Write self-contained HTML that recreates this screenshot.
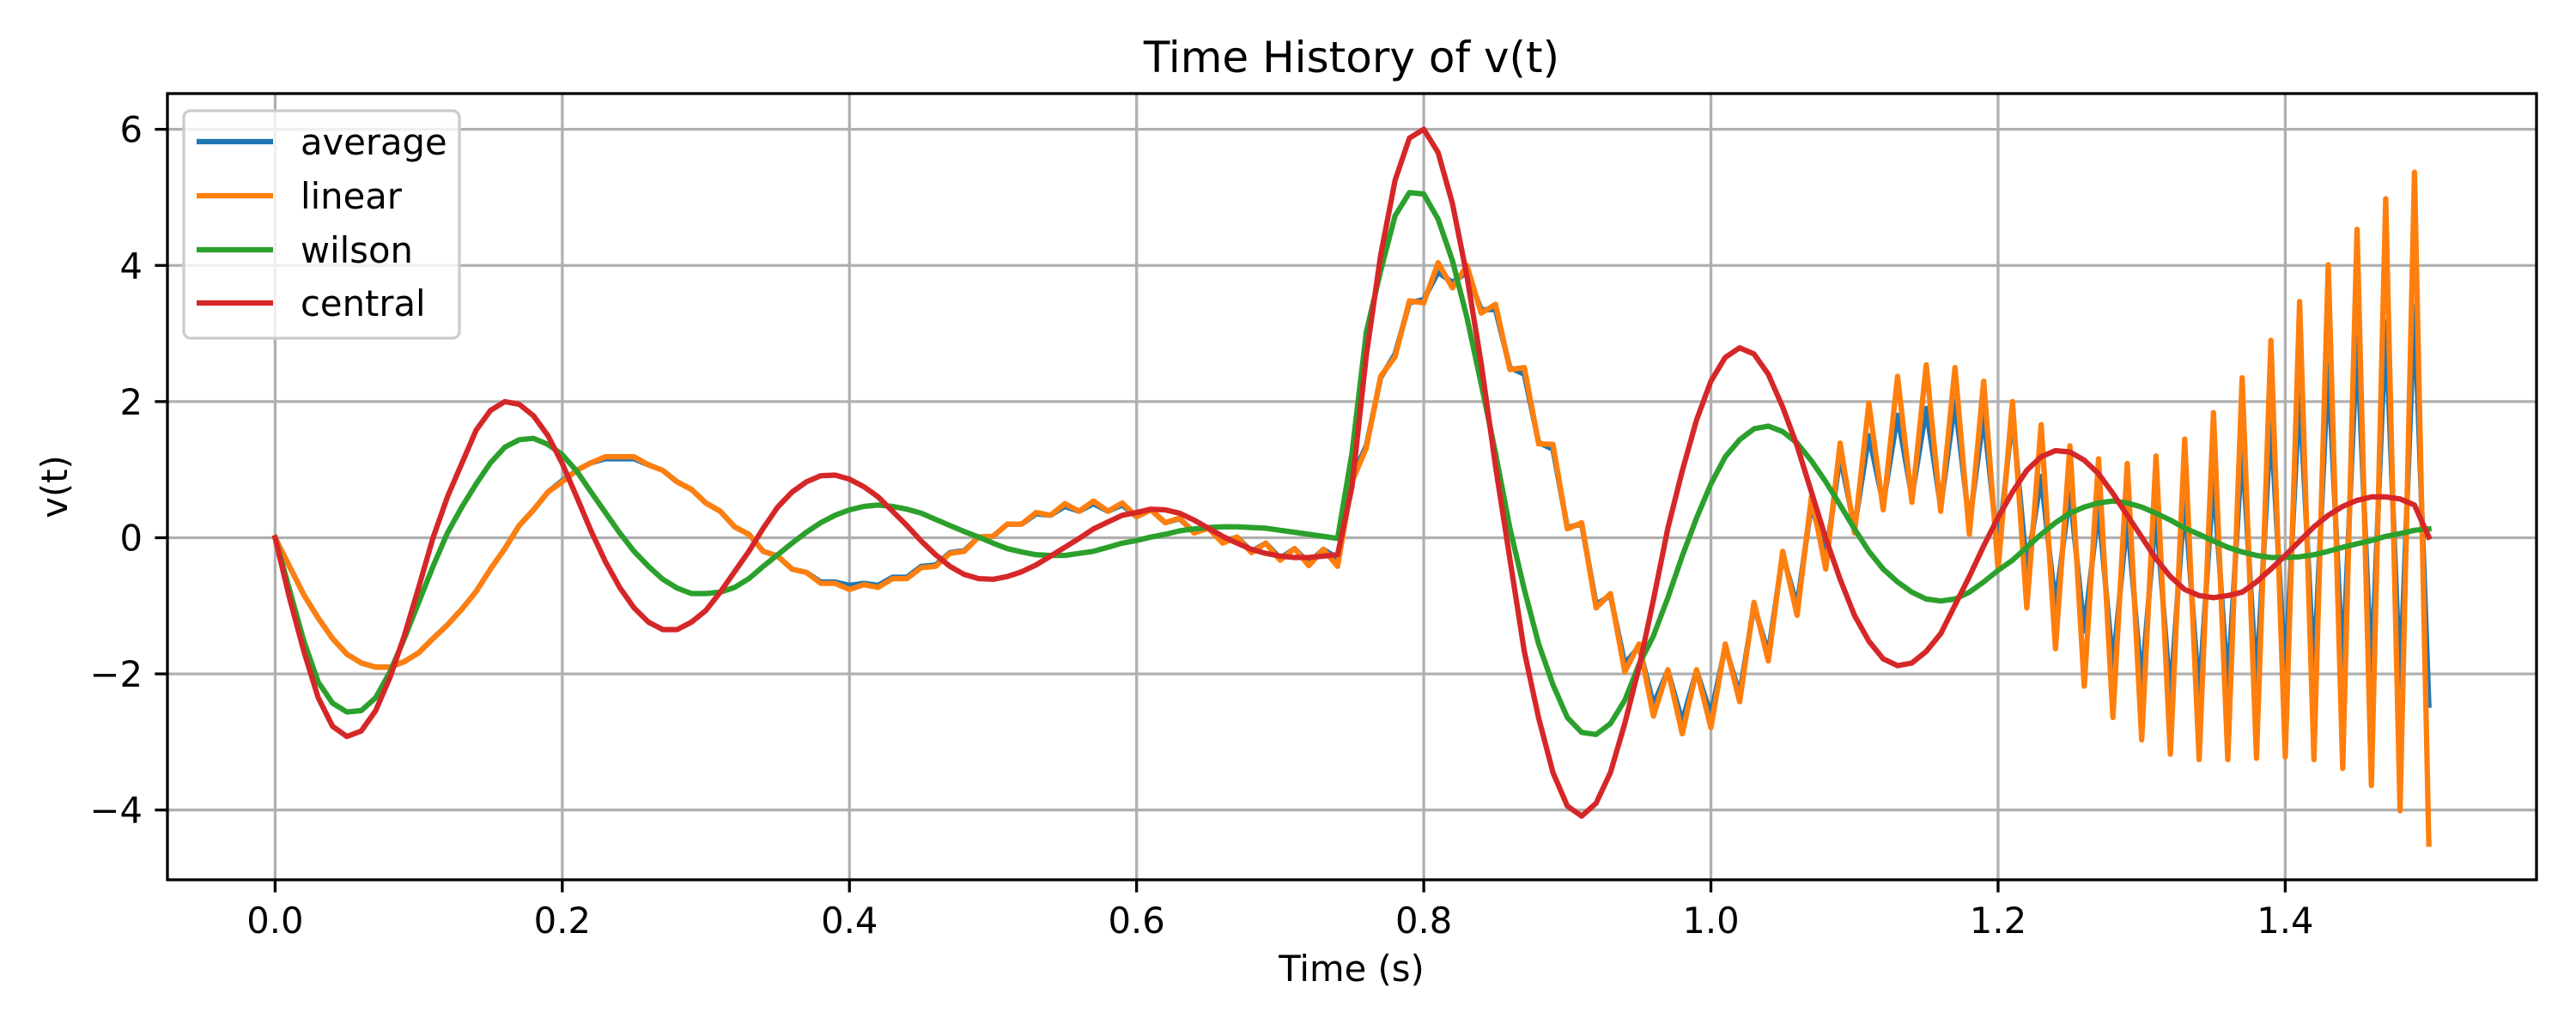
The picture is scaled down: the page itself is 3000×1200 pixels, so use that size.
<!DOCTYPE html>
<html><head><meta charset="utf-8"><title>Time History of v(t)</title>
<style>html,body{margin:0;padding:0;background:#fff}svg{display:block}text{font-family:"DejaVu Sans","Liberation Sans",sans-serif;fill:#000}</style>
</head><body>
<svg id="chart" width="3000" height="1200" viewBox="0 0 3000 1200" xmlns="http://www.w3.org/2000/svg">
<rect x="0" y="0" width="3000" height="1200" fill="#fff"/>
<g id="grid"></g>
<g id="series"></g>
<g id="axes"></g>
<text x="1574" y="84" font-size="50" text-anchor="middle">Time History of v(t)</text>
<text x="1574" y="1143" font-size="41.7" text-anchor="middle">Time (s)</text>
<text x="0" y="0" font-size="41.7" text-anchor="middle" transform="translate(78,567) rotate(-90)">v(t)</text>
<g id="legend"></g>
</svg>
<script>
const dtStep = 0.01;
const averageVals = [0,-0.42,-0.84,-1.18,-1.48,-1.71,-1.84,-1.9,-1.9,-1.82,-1.69,-1.48,-1.28,-1.05,-0.79,-0.46,-0.16,0.18,0.41,0.67,0.84,0.99,1.1,1.16,1.16,1.16,1.07,0.99,0.82,0.71,0.51,0.39,0.16,0.05,-0.2,-0.27,-0.46,-0.51,-0.65,-0.65,-0.7,-0.67,-0.7,-0.58,-0.58,-0.42,-0.4,-0.22,-0.19,0.01,0.02,0.2,0.2,0.35,0.33,0.46,0.39,0.5,0.39,0.48,0.31,0.41,0.22,0.28,0.08,0.14,-0.06,0.01,-0.2,-0.08,-0.3,-0.16,-0.37,-0.17,-0.3,0.9,1.35,2.35,2.7,3.45,3.5,3.9,3.75,3.9,3.35,3.35,2.5,2.4,1.4,1.3,0.15,0.2,-0.98,-0.85,-1.85,-1.6,-2.45,-1.95,-2.7,-1.95,-2.6,-1.6,-2.3,-1.0,-1.7,-0.25,-1.0,0.5,-0.3,1.2,0.15,1.5,0.5,1.8,0.6,1.9,0.45,2.0,0.2,1.8,-0.2,1.8,-0.46,0.9,-1.0,0.67,-1.37,0.45,-1.9,0.3,-2.16,0.4,-2.35,0.6,-2.35,0.9,-2.2,1.35,-2.15,1.73,-2.05,2.18,-2.0,2.56,-1.95,2.94,-2.05,3.17,-2.2,3.39,-2.46];
const linearVals = [0,-0.42,-0.84,-1.18,-1.48,-1.71,-1.84,-1.9,-1.9,-1.82,-1.69,-1.48,-1.28,-1.05,-0.79,-0.46,-0.16,0.18,0.41,0.67,0.82,0.99,1.1,1.19,1.19,1.19,1.07,0.99,0.82,0.71,0.51,0.39,0.16,0.05,-0.2,-0.27,-0.46,-0.51,-0.67,-0.67,-0.76,-0.69,-0.73,-0.6,-0.6,-0.44,-0.42,-0.23,-0.2,0.01,0.02,0.2,0.2,0.37,0.33,0.5,0.39,0.54,0.39,0.51,0.31,0.41,0.22,0.29,0.07,0.14,-0.08,0.01,-0.22,-0.08,-0.33,-0.16,-0.41,-0.17,-0.42,0.82,1.32,2.37,2.66,3.48,3.45,4.04,3.67,4.0,3.3,3.43,2.47,2.5,1.38,1.37,0.13,0.22,-1.03,-0.82,-1.97,-1.56,-2.62,-1.94,-2.88,-1.94,-2.79,-1.56,-2.41,-0.95,-1.81,-0.2,-1.14,0.6,-0.46,1.39,0.07,1.98,0.41,2.37,0.52,2.54,0.39,2.5,0.05,2.3,-0.46,2.0,-1.03,1.66,-1.63,1.35,-2.18,1.16,-2.64,1.09,-2.97,1.2,-3.18,1.45,-3.26,1.84,-3.26,2.35,-3.24,2.9,-3.22,3.47,-3.26,4.01,-3.39,4.53,-3.64,4.98,-4.01,5.37,-4.5];
const wilsonVals = [0,-0.76,-1.52,-2.12,-2.43,-2.56,-2.54,-2.35,-1.97,-1.48,-0.95,-0.42,0.07,0.45,0.79,1.1,1.33,1.44,1.46,1.37,1.22,0.98,0.67,0.37,0.07,-0.2,-0.42,-0.61,-0.74,-0.82,-0.82,-0.8,-0.73,-0.6,-0.42,-0.25,-0.08,0.08,0.22,0.33,0.41,0.46,0.48,0.46,0.42,0.36,0.27,0.18,0.09,0.01,-0.08,-0.16,-0.21,-0.25,-0.26,-0.26,-0.23,-0.2,-0.14,-0.08,-0.04,0.01,0.05,0.1,0.13,0.15,0.16,0.16,0.15,0.14,0.11,0.08,0.05,0.02,-0.01,1.24,3.02,3.92,4.73,5.07,5.05,4.68,4.07,3.24,2.26,1.24,0.14,-0.76,-1.56,-2.16,-2.64,-2.86,-2.89,-2.73,-2.39,-1.86,-1.44,-0.88,-0.27,0.29,0.79,1.19,1.44,1.6,1.64,1.56,1.39,1.13,0.82,0.48,0.13,-0.2,-0.46,-0.65,-0.8,-0.9,-0.93,-0.9,-0.8,-0.65,-0.48,-0.33,-0.14,0.05,0.22,0.36,0.45,0.51,0.54,0.51,0.45,0.36,0.26,0.14,0.05,-0.05,-0.14,-0.21,-0.26,-0.29,-0.29,-0.28,-0.25,-0.2,-0.14,-0.09,-0.04,0.02,0.06,0.11,0.13];
const centralVals = [0,-0.88,-1.67,-2.35,-2.77,-2.92,-2.84,-2.54,-2.05,-1.44,-0.73,0,0.6,1.09,1.58,1.87,2.0,1.96,1.79,1.5,1.09,0.6,0.1,-0.35,-0.73,-1.03,-1.24,-1.35,-1.35,-1.24,-1.07,-0.8,-0.5,-0.2,0.14,0.45,0.67,0.82,0.91,0.92,0.86,0.75,0.6,0.39,0.18,-0.05,-0.25,-0.42,-0.54,-0.6,-0.61,-0.57,-0.5,-0.4,-0.27,-0.14,-0.01,0.13,0.23,0.33,0.37,0.42,0.41,0.36,0.26,0.14,0.02,-0.08,-0.17,-0.23,-0.27,-0.29,-0.29,-0.27,-0.25,0.75,2.68,4.15,5.25,5.87,6.0,5.66,4.91,3.85,2.56,1.05,-0.31,-1.67,-2.65,-3.45,-3.94,-4.09,-3.9,-3.45,-2.73,-1.9,-0.91,0.14,0.98,1.73,2.3,2.65,2.79,2.7,2.4,1.92,1.35,0.67,-0.01,-0.61,-1.14,-1.52,-1.78,-1.88,-1.84,-1.67,-1.41,-0.99,-0.57,-0.12,0.3,0.67,0.99,1.19,1.28,1.26,1.14,0.94,0.65,0.33,0.01,-0.31,-0.57,-0.76,-0.85,-0.88,-0.85,-0.8,-0.65,-0.46,-0.26,-0.05,0.16,0.33,0.46,0.55,0.6,0.6,0.57,0.48,0.01];
const xTickVals = [0.0,0.2,0.4,0.6,0.8,1.0,1.2,1.4];
const xTickLabels = ["0.0","0.2","0.4","0.6","0.8","1.0","1.2","1.4"];
const yTickVals = [-4,-2,0,2,4,6];
const yTickLabels = ["\u22124","\u22122","0","2","4","6"];
const seriesNames = ["average","linear","wilson","central"];

const NS = "http://www.w3.org/2000/svg";
const L = 195, R = 2954, T = 109, B = 1025;
const XMIN = -0.075, XMAX = 1.575, YMIN = -5.025, YMAX = 6.525;
function xs(v){ return L + (v - XMIN) / (XMAX - XMIN) * (R - L); }
function ys(v){ return B - (v - YMIN) / (YMAX - YMIN) * (B - T); }
function mk(tag, attrs, parent){ const e = document.createElementNS(NS, tag); for (const k in attrs) e.setAttribute(k, attrs[k]); parent.appendChild(e); return e; }

const grid = document.getElementById('grid');
const axes = document.getElementById('axes');
xTickVals.forEach((v, i) => {
  const g = mk('line', {x1: xs(v), x2: xs(v), y1: T, y2: B, stroke: '#b0b0b0', 'stroke-width': 3.3}, grid);
  
  
  const tk = mk('line', {x1: xs(v), x2: xs(v), y1: B, y2: B + 14.6, stroke: '#000', 'stroke-width': 3.3}, axes);
  
  
  const tx = mk('text', {x: xs(v), y: 1087, 'font-size': 41.7, 'text-anchor': 'middle'}, axes);
  tx.textContent = xTickLabels[i];
  
  
});
yTickVals.forEach((v, i) => {
  const g = mk('line', {x1: L, x2: R, y1: ys(v), y2: ys(v), stroke: '#b0b0b0', 'stroke-width': 3.3}, grid);
  
  
  const tk = mk('line', {x1: L - 14.6, x2: L, y1: ys(v), y2: ys(v), stroke: '#000', 'stroke-width': 3.3}, axes);
  
  
  const tx = mk('text', {x: 166, y: ys(v) + 15, 'font-size': 41.7, 'text-anchor': 'end'}, axes);
  tx.textContent = yTickLabels[i];
  
  
});
const frame = mk('rect', {x: L, y: T, width: R - L, height: B - T, fill: 'none', stroke: '#000', 'stroke-width': 3.3}, axes);



const colors = ['#1f77b4', '#ff7f0e', '#2ca02c', '#d62728'];
const allVals = [averageVals, linearVals, wilsonVals, centralVals];
const sg = document.getElementById('series');
allVals.forEach((vals, s) => {
  const d = vals.map((v, i) => (i ? 'L' : 'M') + xs(i * dtStep).toFixed(1) + ' ' + ys(v).toFixed(1)).join(' ');
  const p = mk('path', {d: d, fill: 'none', stroke: colors[s], 'stroke-width': 6.25, 'stroke-linejoin': 'round', 'stroke-linecap': 'square'}, sg);
  
  
});

const lg = document.getElementById('legend');
const box = mk('rect', {x: 214, y: 129, width: 321, height: 265, rx: 8, fill: '#fff', 'fill-opacity': 0.8, stroke: '#cccccc', 'stroke-width': 3.3}, lg);


const rowY = [165, 228, 291, 353];
seriesNames.forEach((n, s) => {
  const ln = mk('line', {x1: 229, x2: 318, y1: rowY[s], y2: rowY[s], stroke: colors[s], 'stroke-width': 6.25}, lg);
  
  
  const tx = mk('text', {x: 350, y: rowY[s] + 15, 'font-size': 41.7}, lg);
  tx.textContent = n;
  
  
});
</script>
</body></html>
